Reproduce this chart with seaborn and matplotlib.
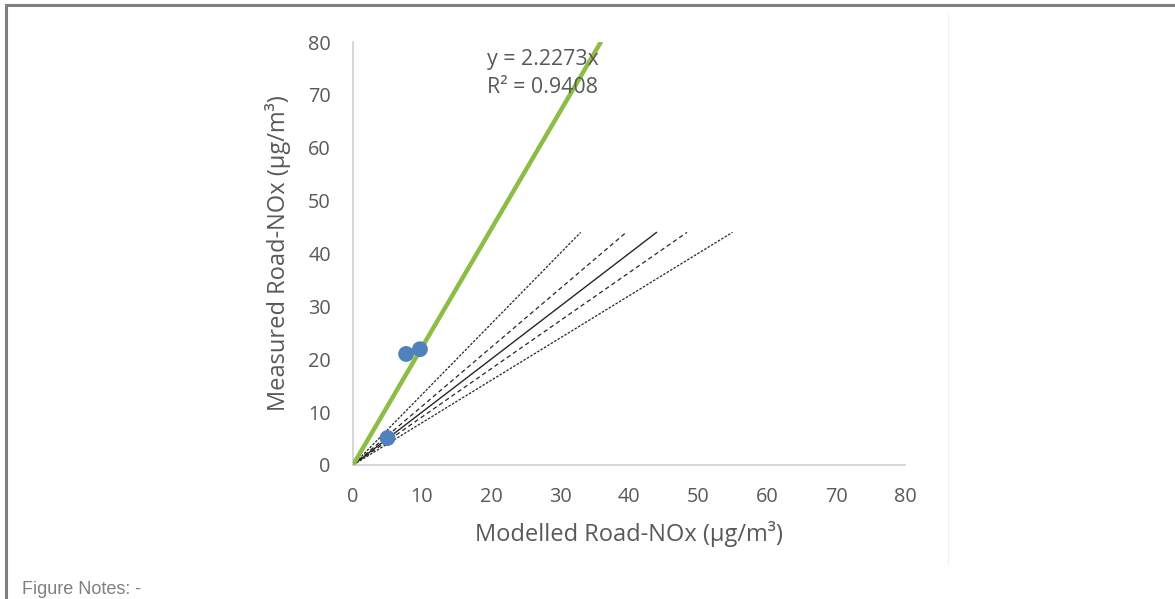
import matplotlib
matplotlib.use("Agg")
import matplotlib.pyplot as plt
import seaborn as sns
import numpy as np
import pandas as pd
from matplotlib.lines import Line2D

# Data
modelled = [5.0, 7.7, 9.7]
measured = [5.1, 21.0, 21.9]
slope = 2.2273
r2 = 0.9408
trend_x = [0, 35.9]
ref_factors = [0.75, 0.9, 1.0, 1.1, 1.25]   # x = 44*factor at y = 44
ref_styles = [(0, (2, 1.2)), (0, (3.5, 2.5)), "-", (0, (3.5, 2.5)), (0, (2, 1.2))]
ref_top = 44
x_ticks = [0, 10, 20, 30, 40, 50, 60, 70, 80]
y_ticks = [0, 10, 20, 30, 40, 50, 60, 70, 80]

sns.set_theme(style="white")
plt.rcParams['font.family'] = ['Open Sans', 'DejaVu Sans']

fig = plt.figure(figsize=(11.75, 5.99), dpi=100)
ax = fig.add_axes([353/1175, 1 - 465/599, (905-353)/1175, (465-42)/599])

text_col = "#595959"

# reference lines
for f, ls in zip(ref_factors, ref_styles):
    df = pd.DataFrame({"x": [0, ref_top * f], "y": [0, ref_top]})
    sns.lineplot(data=df, x="x", y="y", ax=ax, color="#262626",
                 linewidth=1.0 if ls == "-" else 0.9, linestyle=ls, zorder=2)

# trendline
tdf = pd.DataFrame({"x": trend_x, "y": [slope * v for v in trend_x]})
sns.lineplot(data=tdf, x="x", y="y", ax=ax, color="#8cbd45", linewidth=3.2, zorder=3)

# points
pdf = pd.DataFrame({"Modelled": modelled, "Measured": measured})
sns.scatterplot(data=pdf, x="Modelled", y="Measured", ax=ax, color="#4f81bd",
                s=130, edgecolor="none", zorder=4)

ax.text(19.4, 76.6, f"y = {slope}x", fontsize=15.4, color=text_col,
        va="center", ha="left")
ax.text(19.4, 71.4, f"R² = {r2}", fontsize=15.4, color=text_col,
        va="center", ha="left")

ax.set_xlim(0, 80)
ax.set_ylim(0, 80)
ax.set_xticks(x_ticks)
ax.set_yticks(y_ticks)
ax.tick_params(axis="both", labelsize=14.3, labelcolor=text_col, length=0, pad=16)
ax.set_xlabel("Modelled Road-NOx (µg/m³)", fontsize=17, color=text_col, labelpad=10)
ax.set_ylabel("Measured Road-NOx (µg/m³)", fontsize=17, color=text_col, labelpad=12)
for side in ["top", "right"]:
    ax.spines[side].set_visible(False)
for side in ["left", "bottom"]:
    ax.spines[side].set_color("#d0d0d0")
    ax.spines[side].set_linewidth(1.2)
ax.grid(False)

# outer frame lines
fig.add_artist(Line2D([6/1175, 1], [1 - 5/599, 1 - 5/599], color="#7f7f7f", lw=2.2))
fig.add_artist(Line2D([6/1175, 6/1175], [0, 1 - 5/599], color="#7f7f7f", lw=2.2))
fig.add_artist(Line2D([948/1175, 948/1175], [1 - 565/599, 1 - 13/599], color="#f0f0f0", lw=0.8))

fig.text(22/1175, 1 - 590/599, "Figure Notes: -", fontsize=13, color="#808080",
         family="Liberation Sans", va="center", ha="left")

fig.savefig("out.png", dpi=100)
